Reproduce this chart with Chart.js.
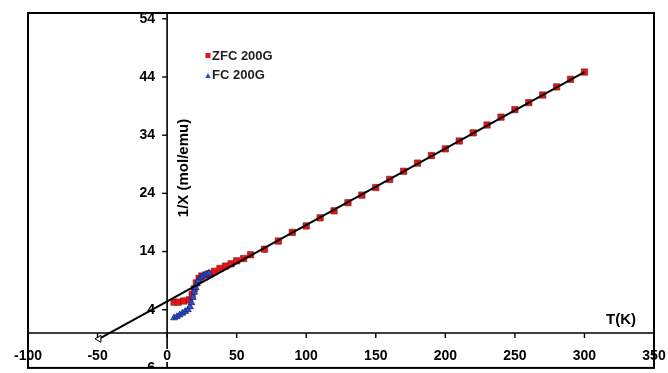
<!DOCTYPE html>
<html>
<head>
<meta charset="utf-8">
<script src="https://cdn.jsdelivr.net/npm/chart.js@4/dist/chart.umd.min.js"></script>
<style>
  html, body { margin: 0; padding: 0; background: #fff; }
  #wrap { width: 668px; height: 373px; position: relative; }
</style>
</head>
<body>
<div id="wrap"><canvas id="chartInvChi"></canvas></div>
<script>
// ZFC 200G, inverse susceptibility vs temperature
const zfcT = [5, 8, 12, 16, 18, 19.5, 21, 23, 25, 28, 31, 34, 38, 42, 46, 50, 55, 60,
  70, 80, 90, 100, 110, 120, 130, 140, 150, 160, 170, 180, 190, 200, 210, 220,
  230, 240, 250, 260, 270, 280, 290, 300];
const zfcInv = [5.3, 5.3, 5.5, 5.7, 6.6, 7.6, 8.6, 9.4, 9.8, 10.0, 10.2, 10.6, 11.1, 11.5, 11.9, 12.4, 12.8, 13.45,
  14.4, 15.8, 17.3, 18.4, 19.8, 21.0, 22.4, 23.7, 25.0, 26.4, 27.8, 29.2, 30.5, 31.65, 33.0, 34.4,
  35.75, 37.1, 38.4, 39.6, 40.9, 42.3, 43.6, 44.85];

// FC 200G
const fcT = [5, 7, 9, 11, 13, 15, 16.5, 17.5, 18.5, 19.5, 20.5, 21.5, 22.5, 24, 26, 28, 30];
const fcInv = [2.6, 2.8, 3.1, 3.4, 3.7, 4.0, 4.5, 5.2, 6.1, 7.0, 7.8, 8.5, 9.0, 9.5, 9.8, 10.1, 10.3];

// Curie-Weiss fit line end points
const fitT = [-49, 300];
const fitInv = [-1.0, 44.85];

const xTicks = [-100, -50, 0, 50, 100, 150, 200, 250, 300, 350];
const yTicks = [-6, 4, 14, 24, 34, 44, 54];

const legendItems = ['ZFC 200G', 'FC 200G'];
const xTitle = 'T(K)';
const yTitle = '1/X (mol/emu)';

function pts(xs, ys) {
  return xs.map((x, i) => ({ x, y: ys[i] }));
}

const FONT = '"Liberation Sans", Arial, sans-serif';

// frame, centred axes, ticks, labels and legend
const axesPlugin = {
  id: 'centredAxes',
  afterDatasetsDraw(chart) {
    const { ctx, chartArea: a, scales } = chart;
    const xs = scales.x, ys = scales.y;
    const x0 = xs.getPixelForValue(0);
    const y0 = ys.getPixelForValue(0);

    ctx.save();
    ctx.strokeStyle = '#000';
    ctx.lineWidth = 1.6;
    ctx.beginPath();
    ctx.moveTo(x0, a.top); ctx.lineTo(x0, a.bottom);
    ctx.moveTo(a.left, y0); ctx.lineTo(a.right, y0);
    ctx.stroke();

    // y ticks and labels (clipped to the frame, like the -6 label)
    ctx.save();
    ctx.beginPath();
    ctx.rect(0, 0, chart.width, a.bottom);
    ctx.clip();
    ctx.fillStyle = '#000';
    ctx.font = 'bold 14px ' + FONT;
    ctx.textAlign = 'right';
    ctx.textBaseline = 'middle';
    ctx.lineWidth = 1.4;
    for (const v of yTicks) {
      const py = ys.getPixelForValue(v);
      ctx.beginPath();
      ctx.moveTo(x0 - 5, py); ctx.lineTo(x0, py);
      ctx.stroke();
      ctx.fillText(String(v), x0 - 12, py);
    }
    ctx.restore();

    // x ticks and labels
    ctx.fillStyle = '#000';
    ctx.font = 'bold 14px ' + FONT;
    ctx.textAlign = 'center';
    ctx.textBaseline = 'middle';
    ctx.lineWidth = 1.4;
    for (const v of xTicks) {
      const px = xs.getPixelForValue(v);
      ctx.beginPath();
      ctx.moveTo(px, y0); ctx.lineTo(px, y0 + 5);
      ctx.stroke();
      if (v === 0) {
        ctx.fillStyle = '#fff';
        ctx.fillRect(px - 5, y0 + 16, 10, 13);
        ctx.fillStyle = '#000';
      }
      ctx.fillText(String(v), px, y0 + 23);
    }

    // outer frame
    ctx.lineWidth = 2;
    ctx.strokeRect(a.left, a.top, a.right - a.left, a.bottom - a.top);

    // axis titles
    ctx.font = 'bold 15px ' + FONT;
    ctx.fillText(xTitle, 621, y0 - 13);
    ctx.save();
    ctx.translate(x0 + 17, 168);
    ctx.rotate(-Math.PI / 2);
    ctx.fillText(yTitle, 0, 0);
    ctx.restore();

    // legend
    ctx.font = 'bold 13px ' + FONT;
    ctx.textAlign = 'left';
    ctx.fillStyle = '#222';
    ctx.fillText(legendItems[0], 212, 56);
    ctx.fillText(legendItems[1], 212, 75);
    ctx.fillStyle = '#ee1111';
    ctx.fillRect(205.5, 53, 5, 5);
    ctx.fillStyle = '#2a4fd6';
    ctx.beginPath();
    ctx.moveTo(208, 73); ctx.lineTo(210.8, 78); ctx.lineTo(205.2, 78);
    ctx.closePath();
    ctx.fill();
    ctx.restore();
  }
};

window.addEventListener('DOMContentLoaded', () => {
  const canvas = document.getElementById('chartInvChi');
  new Chart(canvas.getContext('2d'), {
    type: 'scatter',
    data: {
      datasets: [
        {
          label: 'fit',
          data: pts(fitT, fitInv),
          showLine: true,
          borderColor: '#000',
          borderWidth: 2,
          pointStyle: 'triangle',
          rotation: -90,
          pointRadius: [4, 0],
          pointBackgroundColor: '#fff',
          pointBorderColor: '#000',
          pointBorderWidth: 1,
          order: 0
        },
        {
          label: legendItems[1],
          data: pts(fcT, fcInv),
          pointStyle: 'triangle',
          pointRadius: 3.9,
          backgroundColor: '#2a4fd6',
          borderColor: '#10206e',
          borderWidth: 0.7,
          order: 1
        },
        {
          label: legendItems[0],
          data: pts(zfcT, zfcInv),
          pointStyle: 'rect',
          pointRadius: 4.5,
          backgroundColor: '#ee1111',
          borderColor: '#6a2020',
          borderWidth: 0.6,
          order: 2
        }
      ]
    },
    options: {
      responsive: true,
      maintainAspectRatio: false,
      animation: false,
      layout: { padding: { left: 28, top: 13, right: 14, bottom: 3 } },
      plugins: { legend: { display: false }, tooltip: { enabled: false } },
      scales: {
        x: { type: 'linear', min: -100, max: 350, display: false },
        y: { type: 'linear', min: -6, max: 55, display: false }
      }
    },
    plugins: [axesPlugin]
  });
});
</script>
</body>
</html>
